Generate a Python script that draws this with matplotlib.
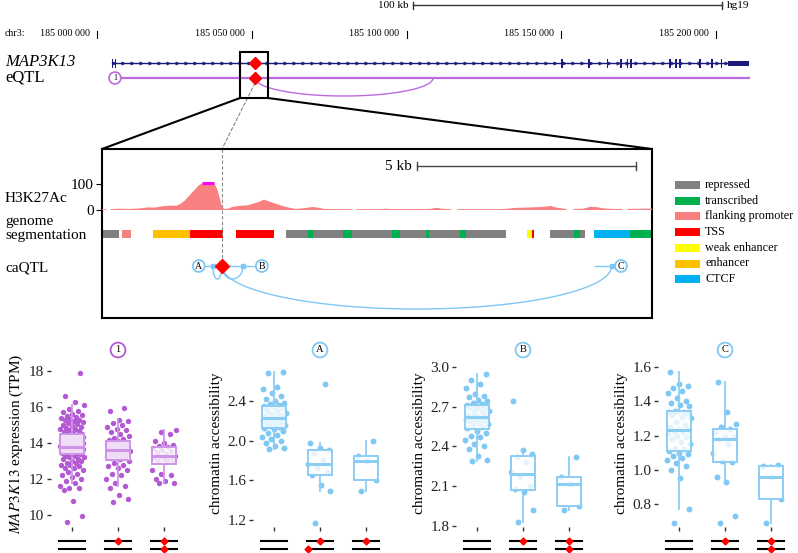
import numpy as np
import matplotlib
matplotlib.use("Agg")
import matplotlib.pyplot as plt
from matplotlib.patches import Rectangle, ConnectionPatch
from matplotlib.transforms import blended_transform_factory

plt.rcParams['font.family'] = ['Liberation Serif', 'DejaVu Serif']
plt.rcParams['mathtext.fontset'] = 'stix'

# ---------------------------------------------------------------- data
chrom_label = "chr3:"
axis_ticks_bp = [185000000, 185050000, 185100000, 185150000, 185200000]
axis_tick_labels = ["185 000 000", "185 050 000", "185 100 000", "185 150 000", "185 200 000"]
scalebar_bp = [185102100, 185202100]
scalebar_label = "100 kb"
genome_build = "hg19"

gene_name = "MAP3K13"
gene_start = 185004700
exon_starts = [185004700, 185005800, 185150050, 185158800, 185164800, 185169100, 185171250,
               185172350, 185184950, 185186900, 185188150, 185194350, 185198500, 185201650, 185203880]
exon_ends = [185005050, 185006150, 185150550, 185159150, 185165200, 185169500, 185171650,
             185172700, 185185350, 185187250, 185188550, 185195300, 185198900, 185202050, 185210660]
exon_kind = ['cds'] * 14 + ['utr']

eqtl_gene_pos = 185005800
eqtl_line_end = 185210660
lead_snp_bp = 185051050
eqtl_arc_end = 185108560
zoom_region_bp = [185046200, 185055250]

# zoomed region (kb from left edge of the detail panel)
detail_span_kb = 12.56
scale_5kb = [7.19, 12.19]
h3k27ac_kb = [0.00, 0.09, 0.14, 0.21, 0.41, 0.64, 0.87, 1.05, 1.21, 1.37, 1.55, 1.69, 1.78, 1.89,
              2.01, 2.12, 2.21, 2.28, 2.56, 2.63, 2.69, 2.74, 2.79, 2.88, 2.99, 3.15, 3.33, 3.49,
              3.61, 3.70, 3.79, 3.93, 4.11, 4.29, 4.43, 4.63, 4.79, 4.93, 5.07, 5.43, 5.71, 5.75,
              5.82, 6.35, 6.48, 6.62, 7.49, 7.63, 7.76, 7.95, 8.04, 8.13, 8.63, 9.09, 9.27, 9.45,
              9.68, 10.00, 10.25, 10.41, 10.59, 10.71, 10.78, 11.00, 11.14, 11.28, 11.46, 11.64,
              11.87, 11.94, 12.01, 12.28, 12.56]
h3k27ac_val = [1, 1, np.nan, 1, 3, 2, 4, 8, 7, 12, 15, 14, 20, 33,
               55, 75, 92, 120, 120, 75, 35, 8, 2, 3, 10, 14, 16, 24,
               30, 38, 32, 24, 14, 6, 2, 5, 9, 7, 2, 1, 1, np.nan,
               1, 1, 3, 1, 2, 6, 3, 1, np.nan, 1, 1, 1, 3, 6,
               7, 9, 13, 6, 2, np.nan, 2, 3, 10, 9, 4, 2,
               2, np.nan, 2, 3, 3]
h3k27ac_ticks = [0, 100]

seg_start = [0.00, 0.46, 1.16, 2.01, 3.06, 4.20, 4.70, 4.82, 5.50, 5.71, 6.62, 6.80, 7.40, 7.47,
             8.17, 8.31, 9.70, 9.82, 10.23, 10.78, 10.91, 11.23, 12.06]
seg_end = [0.39, 0.66, 2.01, 2.76, 3.93, 4.70, 4.82, 5.50, 5.71, 6.62, 6.80, 7.40, 7.47, 8.17,
           8.31, 9.22, 9.82, 9.86, 10.78, 10.91, 11.03, 12.06, 12.56]
seg_state = ["repressed", "flanking promoter", "enhancer", "TSS", "TSS", "repressed", "transcribed",
             "repressed", "transcribed", "repressed", "transcribed", "repressed", "transcribed",
             "repressed", "transcribed", "repressed", "weak enhancer", "TSS", "repressed",
             "transcribed", "repressed", "CTCF", "transcribed"]
seg_states = ["repressed", "transcribed", "flanking promoter", "TSS", "weak enhancer", "enhancer", "CTCF"]
seg_colors = ["#808080", "#00b050", "#f87f7f", "#ff0000", "#ffff00", "#ffc000", "#00b0f0"]

caqtl_snp_kb = 2.74
caqtl_peaks = ["A", "B", "C"]
caqtl_peak_kb = [2.21, 3.65, 11.85]
caqtl_anchor_kb = [2.53, 3.22, 11.64]
caqtl_peakline_kb = [[2.21, 2.74], [2.74, 3.65], [11.26, 11.85]]

# box plots
expr_g0 = [9.6, 9.95, 10.8, 11.4, 11.5, 11.5, 11.6, 11.8, 11.9, 12.0, 12.1, 12.2, 12.3, 12.4, 12.5,
           12.6, 12.6, 12.7, 12.8, 12.8, 12.9, 12.9, 13.0, 13.0, 13.1, 13.1, 13.2, 13.2, 13.3, 13.3,
           13.38, 13.4, 13.42, 13.44, 13.45, 13.47, 13.5, 13.5, 13.52, 13.54, 13.55, 13.57, 13.58,
           13.6, 13.6, 13.62, 13.63, 13.65, 13.66, 13.68, 13.7, 13.7, 13.72, 13.73, 13.75, 13.76,
           13.77, 13.78, 13.78, 13.79, 13.8, 13.82, 13.85, 13.88, 13.9, 13.92, 13.95, 13.98, 14.0,
           14.02, 14.05, 14.08, 14.1, 14.12, 14.15, 14.18, 14.2, 14.22, 14.25, 14.28, 14.3, 14.32,
           14.35, 14.37, 14.4, 14.42, 14.44, 14.46, 14.47, 14.48, 14.5, 14.55, 14.6, 14.65, 14.7,
           14.75, 14.8, 14.85, 14.9, 14.95, 15.0, 15.05, 15.1, 15.15, 15.2, 15.25, 15.3, 15.35,
           15.4, 15.45, 15.5, 15.55, 15.6, 15.7, 15.8, 15.9, 16.1, 16.3, 16.6, 17.9]
expr_g1 = [10.7, 10.9, 11.1, 11.5, 11.6, 11.8, 12.0, 12.2, 12.3, 12.5, 12.6, 12.7, 12.8, 12.9, 13.0,
           13.1, 13.15, 13.2, 13.25, 13.3, 13.33, 13.36, 13.4, 13.43, 13.46, 13.5, 13.53, 13.55,
           13.58, 13.6, 13.6, 13.63, 13.66, 13.7, 13.73, 13.77, 13.8, 13.85, 13.9, 13.93, 13.96,
           14.0, 14.03, 14.07, 14.1, 14.15, 14.2, 14.3, 14.4, 14.5, 14.6, 14.7, 14.8, 14.9, 15.0,
           15.1, 15.2, 15.3, 15.8, 15.95]
expr_g2 = [11.75, 11.8, 11.9, 12.0, 12.2, 12.3, 12.5, 12.97, 13.0, 13.05, 13.1, 13.15, 13.2, 13.3,
           13.3, 13.4, 13.5, 13.55, 13.6, 13.7, 13.78, 13.85, 13.9, 14.0, 14.1, 14.5, 14.6, 14.7]

peakA_g0 = [1.92, 1.93, 1.95, 1.98, 2.0, 2.02, 2.04, 2.06, 2.08, 2.1, 2.12, 2.13, 2.14, 2.15, 2.16,
            2.17, 2.18, 2.19, 2.2, 2.21, 2.22, 2.22, 2.23, 2.24, 2.25, 2.26, 2.27, 2.28, 2.3, 2.31,
            2.33, 2.34, 2.35, 2.36, 2.37, 2.38, 2.4, 2.42, 2.45, 2.48, 2.52, 2.54, 2.68, 2.69]
peakA_g1 = [1.17, 1.49, 1.55, 1.65, 1.68, 1.72, 1.76, 1.8, 1.88, 1.91, 1.93, 1.98, 2.57]
peakA_g2 = [1.49, 1.6, 1.79, 1.84, 2.0]

peakB_g0 = [2.29, 2.3, 2.33, 2.38, 2.4, 2.42, 2.45, 2.47, 2.48, 2.5, 2.52, 2.54, 2.55, 2.56, 2.57,
            2.58, 2.59, 2.6, 2.6, 2.61, 2.61, 2.62, 2.62, 2.63, 2.64, 2.65, 2.66, 2.67, 2.68, 2.69,
            2.7, 2.7, 2.71, 2.72, 2.73, 2.74, 2.75, 2.77, 2.78, 2.8, 2.84, 2.87, 2.9, 2.95]
peakB_g1 = [1.83, 1.92, 2.06, 2.08, 2.1, 2.17, 2.21, 2.28, 2.32, 2.34, 2.37, 2.74]
peakB_g2 = [1.92, 1.95, 2.12, 2.17, 2.32]

peakC_g0 = [0.69, 0.77, 0.95, 1.0, 1.02, 1.04, 1.06, 1.07, 1.08, 1.09, 1.1, 1.11, 1.12, 1.13, 1.15,
            1.16, 1.18, 1.19, 1.2, 1.21, 1.22, 1.22, 1.23, 1.24, 1.25, 1.26, 1.28, 1.3, 1.31, 1.32,
            1.33, 1.335, 1.34, 1.34, 1.345, 1.37, 1.38, 1.39, 1.4, 1.42, 1.45, 1.46, 1.48, 1.49,
            1.5, 1.57]
peakC_g1 = [0.69, 0.73, 0.93, 0.96, 1.045, 1.05, 1.1, 1.15, 1.18, 1.19, 1.2, 1.22, 1.24, 1.25,
            1.27, 1.34, 1.51]
peakC_g2 = [0.69, 0.83, 0.96, 1.02, 1.03]

# genotype glyphs: (group, line 0=top/1=bottom, 'c'=centre or 'l'=left end)
genotype_marks = [
    [(1, 0, 'c'), (2, 0, 'c'), (2, 1, 'c')],
    [(1, 0, 'c'), (1, 1, 'l'), (2, 0, 'c')],
    [(1, 0, 'c'), (2, 0, 'c'), (2, 1, 'c')],
    [(1, 0, 'c'), (2, 0, 'c'), (2, 1, 'c')],
]

# ---------------------------------------------------------------- styles
W, H = 798, 553
purple = '#b35ad3'
purple_box = '#cf94e8'
purple_line = '#bb6be0'
blue = '#80c8f4'
blue_box = '#8ccdf4'
navy = '#1b1b7d'
salmon = '#f88080'

fig = plt.figure(figsize=(W / 100, H / 100), dpi=100)


def fpos(x0, y0, x1, y1):
    return [x0 / W, 1 - y1 / H, (x1 - x0) / W, (y1 - y0) / H]


# pixel overlay for free labels / legend
ov = fig.add_axes([0, 0, 1, 1], zorder=0)
ov.set_xlim(0, W)
ov.set_ylim(H, 0)
ov.axis('off')

# ---------------------------------------------------------------- genome track
ax_gen = fig.add_axes(fpos(0, 0, W, 140), zorder=2)
bpp = (axis_ticks_bp[-1] - axis_ticks_bp[0]) / (716 - 97)
ax_gen.set_xlim(axis_ticks_bp[0] - 97 * bpp, axis_ticks_bp[0] + (W - 97) * bpp)
ax_gen.set_ylim(140, 0)
ax_gen.axis('off')
ax_gen.patch.set_alpha(0)

ov.text(5, 34, chrom_label, fontsize=7.2, va='center', ha='left')
for bp, lab in zip(axis_ticks_bp, axis_tick_labels):
    ax_gen.plot([bp, bp], [30.5, 37.5], color='k', lw=0.8)
    ax_gen.annotate(lab, (bp, 34), xytext=(-7, 0), textcoords='offset pixels',
                    ha='right', va='center', fontsize=7.2)

ax_gen.plot(scalebar_bp, [5, 5], color='#333333', lw=1)
for bp in scalebar_bp:
    ax_gen.plot([bp, bp], [1.5, 8.5], color='#333333', lw=1)
ax_gen.annotate(scalebar_label, (scalebar_bp[0], 5), xytext=(-4, 0), textcoords='offset pixels',
                ha='right', va='center', fontsize=8)
ax_gen.annotate(genome_build, (scalebar_bp[1], 5), xytext=(4, 0), textcoords='offset pixels',
                ha='left', va='center', fontsize=8)

# gene model
ax_gen.plot([gene_start, exon_starts[-1]], [63, 63], color=navy, lw=1)
chev = np.arange(gene_start + 2 * bpp, exon_starts[-1], 9 * bpp)
ax_gen.plot(chev, np.full(len(chev), 63), ls='none', marker='>', ms=2.3, color=navy, mew=0.5)
for s, e, k in zip(exon_starts, exon_ends, exon_kind):
    if k == 'cds':
        ax_gen.broken_barh([(s, e - s)], (58.5, 9), facecolors=navy, lw=0)
    else:
        ax_gen.broken_barh([(s, e - s)], (60.5, 5.5), facecolors=navy, lw=0)

# eQTL row
ax_gen.plot([eqtl_gene_pos, eqtl_line_end], [78, 78], color=purple_line, lw=1.6, zorder=2)
t = np.linspace(0, np.pi, 120)
mid, half = (lead_snp_bp + eqtl_arc_end) / 2, (eqtl_arc_end - lead_snp_bp) / 2
ax_gen.plot(mid + half * np.cos(t), 78 + 18 * np.sin(t), color=purple_line, lw=1, zorder=2)
ax_gen.text(eqtl_gene_pos, 78, '1', ha='center', va='center', fontsize=5.5, zorder=4,
            bbox=dict(boxstyle='circle,pad=0.25', fc='white', ec=purple_line, lw=1.2))
ax_gen.plot([lead_snp_bp, lead_snp_bp], [63, 78], ls='none', marker='D', ms=6.5,
            color='#ff0000', zorder=5)
ax_gen.add_patch(Rectangle((zoom_region_bp[0], 52), zoom_region_bp[1] - zoom_region_bp[0], 46,
                           fill=False, ec='k', lw=1.5, zorder=3))

ov.text(5, 62, gene_name, fontsize=12, style='italic', va='center', ha='left')
ov.text(5, 78, 'eQTL', fontsize=12, va='center', ha='left')

# ---------------------------------------------------------------- detail panel
ax_det = fig.add_axes(fpos(102, 149, 652, 318), zorder=1)
ax_det.set_xlim(0, detail_span_kb)
ax_det.set_ylim(318, 149)
ax_det.set_xticks([])
ax_det.set_yticks([])
for sp in ax_det.spines.values():
    sp.set_linewidth(1.5)

ax_det.plot(scale_5kb, [166, 166], color='#444444', lw=1)
for x in scale_5kb:
    ax_det.plot([x, x], [162, 170], color='#444444', lw=1)
ax_det.annotate('5 kb', (scale_5kb[0], 166), xytext=(-5, 0), textcoords='offset pixels',
                ha='right', va='center', fontsize=11)

cmap = dict(zip(seg_states, seg_colors))
for s, e, st in zip(seg_start, seg_end, seg_state):
    ax_det.broken_barh([(s, e - s)], (230, 8), facecolors=cmap[st], lw=0)

row = 266
ax_det.plot([caqtl_snp_kb, caqtl_snp_kb], [149, row - 4], color='#888888', lw=0.8, ls=(0, (3, 2)))
for seg in caqtl_peakline_kb:
    ax_det.plot(seg, [row, row], color=blue, lw=1)
depths = [13, 13, 43]
for a, d in zip(caqtl_anchor_kb, depths):
    m, h = (caqtl_snp_kb + a) / 2, (a - caqtl_snp_kb) / 2
    ax_det.plot(m + h * np.cos(t), row + d * np.sin(t), color=blue, lw=1)
ax_det.plot(caqtl_anchor_kb, [row] * 3, ls='none', marker='s', ms=2.5, color=blue)
for lab, x in zip(caqtl_peaks, caqtl_peak_kb):
    ax_det.text(x, row, lab, ha='center', va='center', fontsize=7, zorder=4,
                bbox=dict(boxstyle='circle,pad=0.15', fc='white', ec=blue, lw=1.3))
ax_det.plot([caqtl_snp_kb], [row], ls='none', marker='D', ms=7, color='#ff0000', zorder=5)

# H3K27Ac signal
ax_sig = fig.add_axes(fpos(102, 180, 652, 210), zorder=1.5)
ax_sig.patch.set_alpha(0)
ax_sig.set_xlim(0, detail_span_kb)
ax_sig.set_ylim(0, 100 * 30 / 26)
sig_x = np.array(h3k27ac_kb)
sig_y = np.array(h3k27ac_val, dtype=float)
shown = np.minimum(sig_y, 100)
ax_sig.fill_between(sig_x, 0, shown, color=salmon, lw=0)
ax_sig.plot(sig_x, shown, color=salmon, lw=0.8)
clip = sig_y > 100
ax_sig.plot(sig_x[clip], np.full(clip.sum(), 102), color='#ff00ff', lw=2.2, solid_capstyle='butt')
for sp in ax_sig.spines.values():
    sp.set_visible(False)
ax_sig.set_xticks([])
ax_sig.set_yticks(h3k27ac_ticks)
ax_sig.set_yticklabels([str(v) for v in h3k27ac_ticks], fontsize=11)
ax_sig.tick_params(axis='y', length=4, width=0.8, pad=2)

ov.text(5, 199, 'H3K27Ac', fontsize=11, va='center', ha='left')
ov.text(5, 221, 'genome', fontsize=11, va='center', ha='left')
ov.text(5, 236, 'segmentation', fontsize=11, va='center', ha='left')
ov.text(5, 268, 'caQTL', fontsize=11, va='center', ha='left')

# zoom connectors
for xa, xb in [(zoom_region_bp[0], 0), (zoom_region_bp[1], 1)]:
    fig.add_artist(ConnectionPatch(xyA=(xa, 98), coordsA=ax_gen.transData, xyB=(xb, 1),
                                   coordsB=ax_det.transAxes, color='k', lw=1.5))
fig.add_artist(ConnectionPatch(xyA=(lead_snp_bp, 83), coordsA=ax_gen.transData,
                               xyB=(caqtl_snp_kb, 149), coordsB=ax_det.transData,
                               color='#888888', lw=0.8, ls=(0, (3, 2))))

# legend
for i, (st, col) in enumerate(zip(seg_states, seg_colors)):
    y = 185 + i * 15.7
    ov.add_patch(Rectangle((675, y - 4), 25, 8, color=col, lw=0))
    ov.text(705, y, st, fontsize=8.7, va='center', ha='left')

# ---------------------------------------------------------------- box plots
panels = [
    dict(data=[expr_g0, expr_g1, expr_g2], color=purple, boxc=purple_box, ylim=(9.33, 18.61),
         ticks=[10, 12, 14, 16, 18], fmt='{:.0f}', title='1', g0=72,
         label=r'$\mathit{MAP3K13}$ expression (TPM)'),
    dict(data=[peakA_g0, peakA_g1, peakA_g2], color=blue, boxc=blue_box, ylim=(1.129, 2.813),
         ticks=[1.2, 1.6, 2.0, 2.4], fmt='{:.1f}', title='A', g0=274,
         label='chromatin accessibility'),
    dict(data=[peakB_g0, peakB_g1, peakB_g2], color=blue, boxc=blue_box, ylim=(1.792, 3.053),
         ticks=[1.8, 2.1, 2.4, 2.7, 3.0], fmt='{:.1f}', title='B', g0=477,
         label='chromatin accessibility'),
    dict(data=[peakC_g0, peakC_g1, peakC_g2], color=blue, boxc=blue_box, ylim=(0.666, 1.641),
         ticks=[0.8, 1.0, 1.2, 1.4, 1.6], fmt='{:.1f}', title='C', g0=679,
         label='chromatin accessibility'),
]
unit = 46.0
top, bot = 360, 527
for p, marks in zip(panels, genotype_marks):
    left = p['g0'] - 0.45 * unit
    ax = fig.add_axes(fpos(left, top, left + 2.9 * unit, bot), zorder=1)
    c = p['color']
    bc = p['boxc']
    for gi, vals in enumerate(p['data']):
        n = len(vals)
        jit = ((np.arange(n) * 0.61803398875 + 0.3) % 1.0 - 0.5) * 0.52
        ax.scatter(gi + 1 + jit, vals, s=18 if c == blue else 15, color=c, lw=0, zorder=2,
                   clip_on=False)
    ax.boxplot(p['data'], positions=[1, 2, 3], widths=0.53, patch_artist=True,
               showfliers=False, showcaps=False, whis=1.5, zorder=3,
               boxprops=dict(facecolor=(1, 1, 1, 0.8), edgecolor=bc, lw=1.4),
               medianprops=dict(color=bc, lw=2.2),
               whiskerprops=dict(color=bc, lw=1.3))
    ax.set_xlim(0.55, 3.45)
    ax.set_ylim(*p['ylim'])
    for sp in ax.spines.values():
        sp.set_visible(False)
    ax.set_yticks(p['ticks'])
    ax.set_yticklabels([p['fmt'].format(v) for v in p['ticks']], fontsize=11, color='#222222')
    ax.set_xticks([1, 2, 3])
    ax.set_xticklabels([])
    ax.tick_params(length=3, width=1, color='#333333', pad=2)
    ax.set_ylabel(p['label'], fontsize=11, labelpad=3)
    ax.patch.set_alpha(0)
    tr = blended_transform_factory(ax.transData, ax.transAxes)
    ax.text(2, (bot - 350) / (bot - top), p['title'], transform=tr,
            ha='center', va='center', fontsize=7.5,
            bbox=dict(boxstyle='circle,pad=0.28', fc='white', ec=c, lw=1.3))
    ys = [-(541 - bot) / (bot - top), -(549 - bot) / (bot - top)]
    for g in [1, 2, 3]:
        for yy in ys:
            ax.plot([g - 0.28, g + 0.28], [yy, yy], color='k', lw=1.5, transform=tr, clip_on=False)
    for g, li, pos in marks:
        x = g + 1 + (0 if pos == 'c' else -0.26)
        ax.plot([x], [ys[li]], marker='D', ms=3.5, color='#ff0000', transform=tr, clip_on=False,
                zorder=5)

fig.savefig('out.png', dpi=100)
